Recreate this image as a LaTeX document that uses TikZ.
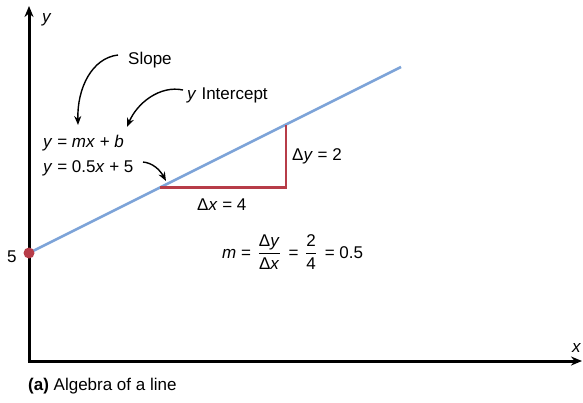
\documentclass[tikz,border=0pt]{standalone}
\usepackage{amsmath}
\usepackage{fontspec}
\setmainfont{Liberation Sans}
\usetikzlibrary{arrows.meta}
\definecolor{lineblue}{RGB}{125,163,216}
\definecolor{dred}{RGB}{183,60,72}
\tikzset{
  lbl/.style={font=\fontsize{17}{20}\selectfont, inner sep=0pt, anchor=base west},
  axis/.style={line width=3pt, -{Stealth[length=11pt,width=9pt]}},
  callout/.style={line width=1.4pt, -{Stealth[length=9pt,width=7pt]}},
}
\begin{document}
\begin{tikzpicture}[x=1pt,y=-1pt]
\useasboundingbox (0,0) rectangle (583,402);
% axes
\coordinate (O) at (29,361);
\coordinate (Ytop) at (29,6);
\coordinate (Xend) at (582,361);
\draw[axis] (29,362.5) -- (Ytop);
\draw[axis] (27.5,361) -- (Xend);
\node[lbl] (ylab) at (42,22) {\textit{y}};
\node[lbl] (xlab) at (572,352) {\textit{x}};
% line
\coordinate (P5) at (29,253);
\coordinate (Lend) at (401,67);
\draw[lineblue, line width=2.5pt] (P5) -- (Lend);
% triangle
\coordinate (A) at (160,187.5);
\coordinate (B) at (286,187.5);
\coordinate (C) at (286,124.5);
\draw[dred, line width=2.8pt] (A) -- (B) -- (C);
\fill[dred] (P5) circle (5.5pt);
\node[lbl] (five) at (7,262) {5};
% labels
\node[lbl] (dy) at (292,160) {Δ\textit{y} = 2};
\node[lbl] (dx) at (197,210) {Δ\textit{x} = 4};
\node[lbl] (meq) at (222,258) {\textit{m} = \hspace{2pt}$\dfrac{\text{Δ\textit{y}}}{\text{Δ\textit{x}}}$\hspace{3pt} = \hspace{2pt}$\dfrac{\text{2}}{\text{4}}$\hspace{3pt} = 0.5};
\node[lbl] (slope) at (128,64) {Slope};
\node[lbl] (yint) at (187,99) {\textit{y}\hspace{5pt}Intercept};
\node[lbl] (eq1) at (43,147) {\textit{y} = \textit{mx} + \textit{b}};
\node[lbl] (eq2) at (43,172) {\textit{y} = 0.5\textit{x} + 5};
\node[lbl] (cap) at (28,390) {\textbf{(a)} Algebra of a line};
% callout arrows
\coordinate (s1) at (118,55);
\coordinate (s2) at (78,125);
\coordinate (i1) at (183,90);
\coordinate (i2) at (127,127);
\coordinate (e1) at (143,162);
\coordinate (e2) at (166,181);
\draw[callout] (s1) .. controls (92,58) and (77,88) .. (s2);
\draw[callout] (i1) .. controls (160,85) and (137,103) .. (i2);
\draw[callout] (e1) .. controls (153,163) and (160,170) .. (e2);
\end{tikzpicture}
\end{document}
